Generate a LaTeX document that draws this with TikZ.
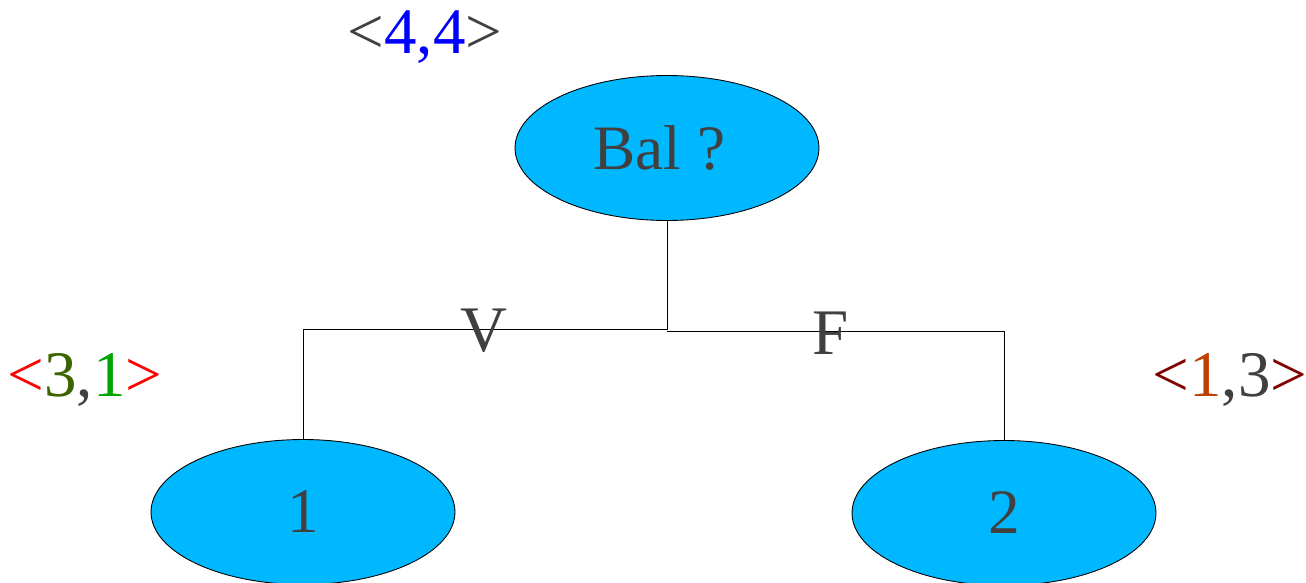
\documentclass[tikz,border=0pt]{standalone}
\usepackage{fontspec}
\setmainfont{Liberation Serif}
\usetikzlibrary{shapes.geometric}
\definecolor{nodefill}{RGB}{0,184,255}
\definecolor{txtgray}{RGB}{64,64,64}
\definecolor{dgreen}{RGB}{60,100,0}
\definecolor{lgreen}{RGB}{0,165,0}
\definecolor{dred}{RGB}{128,0,0}
\definecolor{orng}{RGB}{192,64,0}
\begin{document}
\begin{tikzpicture}[x=0.02cm,y=-0.02cm,
  big/.style={font=\fontsize{36}{40}\selectfont},
  oval/.style={ellipse,draw=black,line width=0.5pt,fill=nodefill,minimum width=6.08cm,minimum height=2.9cm,inner sep=0pt,text=txtgray,big},
  conn/.style={draw=black,line width=0.5pt},
  lbl/.style={font=\fontsize{37}{40}\selectfont,inner sep=0pt,text=txtgray}]
\useasboundingbox (0,0) rectangle (1306,582);
\node[oval] (root) at (667,148) {Bal ?\kern0.3cm};
\node[oval] (n1) at (303,512) {1};
\node[oval] (n2) at (1004,513) {2};
\coordinate (j) at (667,329);
\coordinate (jl) at (303,329);
\coordinate (jr) at (1004,331);
\coordinate (jm) at (667,331);
\draw[conn] (root.south) -- (j) -- (jl) -- (n1.north);
\draw[conn] (jm) -- (jr) -- (n2.north);
\node[lbl] (v) at (484,331) {V};
\node[lbl] (f) at (831,333) {F};
\node[lbl] (top) at (425,37) {<\textcolor{blue}{4,4}>};
\node[lbl] (left) at (85,380) {\textcolor{red}{<}\textcolor{dgreen}{3},\textcolor{lgreen}{1}\textcolor{red}{>}};
\node[lbl] (right) at (1230,380) {\textcolor{dred}{<}\textcolor{orng}{1},3\textcolor{dred}{>}};
\end{tikzpicture}
\end{document}
